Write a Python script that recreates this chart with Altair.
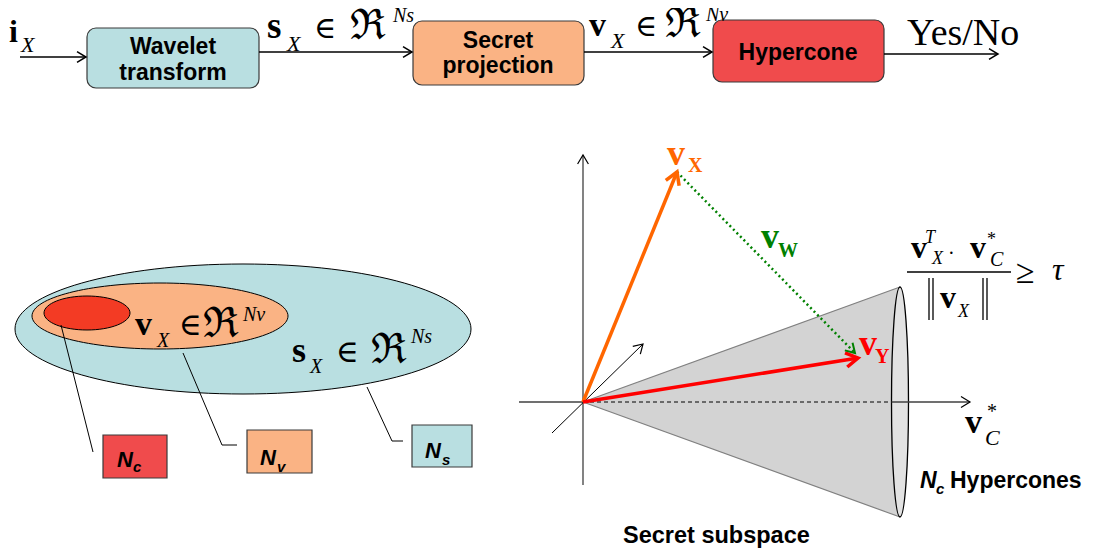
import math
import altair as alt
import pandas as pd

# ------------------------------------------------------------------ data
# flow-chart boxes (top row)
flow_labels = [["Wavelet", "transform"], ["Secret", "projection"], ["Hypercone"]]
flow_x0 = [87, 413, 713]
flow_x1 = [259, 584, 884]
flow_y0 = [28, 21, 20]
flow_y1 = [88, 85, 82]
flow_fill = ["#b9dfe1", "#fab384", "#f04b4c"]

# tag boxes (N_c, N_v, N_s)
tag_x0 = [103, 247, 412]
tag_x1 = [167, 312, 472]
tag_y0 = [435, 430, 425]
tag_y1 = [478, 473, 467]
tag_fill = ["#f04b4c", "#fab384", "#b9dfe1"]

# nested sets (ellipses): Ns, Nv, Nc
ell_cx = [243, 160, 87]
ell_cy = [329, 316, 313]
ell_rx = [228, 128, 43]
ell_ry = [65, 33, 17]
ell_fill = ["#b9dfe1", "#fab384", "#f33b24"]

# hypercone
cone_apex = (583, 402)
cone_end_x = 900
cone_top_y = 287
cone_bot_y = 517
cone_end_rx = 8.5

# flow arrows
arrow_x0 = [20, 259, 584, 884]
arrow_x1 = [86, 412, 712, 998]
arrow_y = [57, 52, 52, 54]

# leader polylines (segments)
lead_x0 = [61, 183, 222, 367, 392]
lead_y0 = [325, 353, 445, 387, 441]
lead_x1 = [93, 222, 237, 392, 403]
lead_y1 = [452, 445, 445, 441, 441]

# coordinate axes of the secret subspace
axis_top = (583, 155)
axis_bottom = (583, 485)
axis_left = (519, 402)
axis_right = (970, 402)
depth_from = (552, 433)
depth_to = (643, 344)

# vectors
vx_tip = (677, 172)
vy_tip = (858, 358)
vw_tip = (855, 353)

# texts: text, x, y(baseline), size, style, colour, align
txt = [
    ("i", 9, 42, 32, "serifb", "#000000", "left"),
    ("X", 21, 52, 22, "serifi", "#000000", "left"),
    ("s", 267, 38, 37, "serifb", "#000000", "left"),
    ("X", 287, 51, 22, "serifi", "#000000", "left"),
    ("∈", 314, 38, 30, "serif", "#000000", "left"),
    ("ℜ", 350, 39, 42, "serif", "#000000", "left"),
    ("Ns", 393, 22, 20, "serifi", "#000000", "left"),
    ("v", 589, 36, 34, "serifb", "#000000", "left"),
    ("X", 611, 48, 22, "serifi", "#000000", "left"),
    ("∈", 635, 36, 30, "serif", "#000000", "left"),
    ("ℜ", 665, 37, 42, "serif", "#000000", "left"),
    ("Nv", 706, 21, 20, "serifi", "#000000", "left"),
    ("Yes/No", 907, 45, 38, "serif", "#000000", "left"),
    ("Wavelet", 173, 54, 23, "sansb", "#000000", "center"),
    ("transform", 173, 80, 23, "sansb", "#000000", "center"),
    ("Secret", 498, 48, 23, "sansb", "#000000", "center"),
    ("projection", 498, 73, 23, "sansb", "#000000", "center"),
    ("Hypercone", 798, 60, 23, "sansb", "#000000", "center"),
    # nested sets
    ("v", 135, 335, 34, "serifb", "#000000", "left"),
    ("X", 157, 347, 20, "serifi", "#000000", "left"),
    ("∈", 179, 335, 31, "serif", "#000000", "left"),
    ("ℜ", 203, 337, 42, "serif", "#000000", "left"),
    ("Nv", 243, 321, 20, "serifi", "#000000", "left"),
    ("s", 292, 362, 36, "serifb", "#000000", "left"),
    ("X", 310, 373, 20, "serifi", "#000000", "left"),
    ("∈", 336, 362, 31, "serif", "#000000", "left"),
    ("ℜ", 371, 363, 42, "serif", "#000000", "left"),
    ("Ns", 411, 343, 20, "serifi", "#000000", "left"),
    ("N", 117, 467, 22, "sansbi", "#000000", "left"),
    ("c", 133, 472, 15, "sansbi", "#000000", "left"),
    ("N", 260, 465, 22, "sansbi", "#000000", "left"),
    ("v", 277, 472, 15, "sansbi", "#000000", "left"),
    ("N", 425, 458, 22, "sansbi", "#000000", "left"),
    ("s", 442, 465, 15, "sansbi", "#000000", "left"),
    # vectors
    ("v", 667, 165, 36, "serifb", "#ff6600", "left"),
    ("X", 688, 172, 20, "serifb", "#ff6600", "left"),
    ("v", 761, 248, 36, "serifb", "#008000", "left"),
    ("W", 778, 257, 20, "serifb", "#008000", "left"),
    ("v", 859, 355, 36, "serifb", "#ff0000", "left"),
    ("Y", 875, 363, 20, "serifb", "#ff0000", "left"),
    ("v", 965, 433, 34, "serifb", "#000000", "left"),
    ("C", 985, 445, 22, "serifi", "#000000", "left"),
    ("*", 987, 418, 20, "serif", "#000000", "left"),
    # formula
    ("v", 911, 258, 32, "serifb", "#000000", "left"),
    ("T", 925, 243, 18, "serifi", "#000000", "left"),
    ("X", 932, 264, 18, "serifi", "#000000", "left"),
    ("·", 948, 260, 20, "serif", "#000000", "left"),
    ("v", 970, 258, 32, "serifb", "#000000", "left"),
    ("*", 987, 245, 18, "serif", "#000000", "left"),
    ("C", 990, 266, 20, "serifi", "#000000", "left"),
    ("v", 940, 308, 32, "serifb", "#000000", "left"),
    ("X", 958, 317, 18, "serifi", "#000000", "left"),
    ("≥", 1016, 283, 34, "serif", "#000000", "left"),
    ("τ", 1052, 280, 32, "serifi", "#000000", "left"),
    ("N", 920, 488, 23, "sansbi", "#000000", "left"),
    ("c", 936, 494, 15, "sansbi", "#000000", "left"),
    ("Hypercones", 950, 488, 23, "sansb", "#000000", "left"),
    ("Secret subspace", 623, 543, 23.5, "sansb", "#000000", "left"),
]

# ------------------------------------------------------------------ helpers
W, H, M = 1081, 540, 8
XS = alt.Scale(domain=[M, M + W], nice=False, zero=False)
YS = alt.Scale(domain=[M + H, M], nice=False, zero=False)


def X(f):
    return alt.X(f, type="quantitative", scale=XS, axis=None)


def Y(f):
    return alt.Y(f, type="quantitative", scale=YS, axis=None)


def seg(p, q, c, w):
    return dict(x=p[0], y=p[1], x2=q[0], y2=q[1], c=c, w=w)


def rule_layer(rows, **kw):
    return alt.Chart(pd.DataFrame(rows)).mark_rule(strokeCap="butt", **kw).encode(
        x=X("x"), y=Y("y"), x2="x2:Q", y2="y2:Q",
        color=alt.Color("c:N", scale=None),
        strokeWidth=alt.StrokeWidth("w:Q", scale=None),
    )


def ellipse_rows(cx, cy, rx, ry, fill):
    rows = []
    for a, b, r1, r2, f in zip(cx, cy, rx, ry, fill):
        if r1 >= r2:
            k = r2 / r1
            path = f"M -1 0 A 1 {k:.4f} 0 1 1 1 0 A 1 {k:.4f} 0 1 1 -1 0 Z"
            size = (2 * r1) ** 2
        else:
            k = r1 / r2
            path = f"M 0 -1 A {k:.4f} 1 0 1 1 0 1 A {k:.4f} 1 0 1 1 0 -1 Z"
            size = (2 * r2) ** 2
        rows.append(dict(x=a, y=b, shape=path, size=size, fill=f))
    return rows


def ellipse_layer(rows, stroke="#000000", sw=1.0):
    return alt.Chart(pd.DataFrame(rows)).mark_point(
        filled=True, opacity=1, stroke=stroke, strokeWidth=sw
    ).encode(
        x=X("x"), y=Y("y"),
        shape=alt.Shape("shape:N", scale=None),
        size=alt.Size("size:Q", scale=None),
        fill=alt.Fill("fill:N", scale=None),
    )


CHEVRON = "M -1 -0.6 L 0 0 L -1 0.6"


def head(p_from, p_to, c, w, half_len):
    ang = math.degrees(math.atan2(p_to[1] - p_from[1], p_to[0] - p_from[0])) % 360
    return dict(x=p_to[0], y=p_to[1], ang=ang, c=c, w=w, size=(2 * half_len) ** 2, shape=CHEVRON)


# ------------------------------------------------------------------ layers
layers = []

# flow boxes
fb = pd.DataFrame(dict(x=flow_x0, x2=flow_x1, y=flow_y0, y2=flow_y1, fill=flow_fill))
layers.append(alt.Chart(fb).mark_rect(cornerRadius=9, stroke="#3a3a3a", strokeWidth=1.2).encode(
    x=X("x"), x2="x2:Q", y=Y("y"), y2="y2:Q", fill=alt.Fill("fill:N", scale=None)))

# tag boxes
tb = pd.DataFrame(dict(x=tag_x0, x2=tag_x1, y=tag_y0, y2=tag_y1, fill=tag_fill))
layers.append(alt.Chart(tb).mark_rect(stroke="#3a3a3a", strokeWidth=1.2).encode(
    x=X("x"), x2="x2:Q", y=Y("y"), y2="y2:Q", fill=alt.Fill("fill:N", scale=None)))

# nested ellipses
layers.append(ellipse_layer(ellipse_rows(ell_cx, ell_cy, ell_rx, ell_ry, ell_fill)))

# solid thin lines
solid = []
for a, b, yv in zip(arrow_x0, arrow_x1, arrow_y):
    solid.append(seg((a, yv), (b, yv), "#000000", 1.5))
for a, b, c, d in zip(lead_x0, lead_y0, lead_x1, lead_y1):
    solid.append(seg((a, b), (c, d), "#000000", 1.0))
layers.append(rule_layer(solid))

# cone body
cone = pd.DataFrame(dict(x=[cone_apex[0], cone_end_x], y=[cone_apex[1], cone_top_y],
                         y2=[cone_apex[1], cone_bot_y]))
layers.append(alt.Chart(cone).mark_area(color="#d3d3d3", opacity=1).encode(
    x=X("x"), y=Y("y"), y2="y2:Q"))
layers.append(rule_layer([
    seg(cone_apex, (cone_end_x, cone_top_y), "#808080", 1.2),
    seg(cone_apex, (cone_end_x, cone_bot_y), "#808080", 1.2),
]))
cone_mid = (cone_top_y + cone_bot_y) / 2
layers.append(ellipse_layer(ellipse_rows([cone_end_x], [cone_mid], [cone_end_rx],
                                         [(cone_bot_y - cone_top_y) / 2], ["#e2e2e2"]), sw=1.3))

# axes
layers.append(rule_layer([
    seg(axis_bottom, axis_top, "#404040", 1.3),
    seg(axis_left, cone_apex, "#404040", 1.3),
    seg((cone_end_x - cone_end_rx, axis_right[1]), axis_right, "#404040", 1.3),
    seg(depth_from, depth_to, "#000000", 1.0),
]))
layers.append(rule_layer([seg(cone_apex, (cone_end_x - cone_end_rx, axis_right[1]), "#000000", 1.0)],
                         strokeDash=[4, 3]))

# formula lines (fraction bar, norm bars)
layers.append(rule_layer([
    seg((907, 272), (1011, 272), "#000000", 1.5),
    seg((929, 278), (929, 320), "#000000", 1.3),
    seg((933, 278), (933, 320), "#000000", 1.3),
    seg((983, 278), (983, 320), "#000000", 1.3),
    seg((987, 278), (987, 320), "#000000", 1.3),
]))

# vectors
layers.append(rule_layer([seg(vx_tip, vw_tip, "#008000", 2.5)], strokeDash=[2, 3]))
layers.append(rule_layer([
    seg(cone_apex, vx_tip, "#ff6600", 3.5),
    seg(cone_apex, vy_tip, "#ff0000", 3.5),
]))

# arrow heads
heads = []
for a, b, yv in zip(arrow_x0, arrow_x1, arrow_y):
    heads.append(head((a, yv), (b, yv), "#000000", 1.5, 9))
heads.append(head(axis_bottom, axis_top, "#000000", 1.2, 9))
heads.append(head(axis_left, axis_right, "#000000", 1.2, 9))
heads.append(head(depth_from, depth_to, "#000000", 1.2, 9))
heads.append(head(cone_apex, vx_tip, "#ff6600", 3.5, 12))
heads.append(head(cone_apex, vy_tip, "#ff0000", 3.5, 12))
heads.append(head(vx_tip, vw_tip, "#008000", 2.0, 9))
layers.append(alt.Chart(pd.DataFrame(heads)).mark_point(filled=False, opacity=1).encode(
    x=X("x"), y=Y("y"),
    shape=alt.Shape("shape:N", scale=None),
    size=alt.Size("size:Q", scale=None),
    angle=alt.Angle("ang:Q", scale=None),
    color=alt.Color("c:N", scale=None),
    strokeWidth=alt.StrokeWidth("w:Q", scale=None),
))

# texts
SERIF = "Liberation Serif, DejaVu Serif, serif"
SANS = "Liberation Sans, Arial, sans-serif"
STYLES = {
    "sansb": dict(font=SANS, fontWeight="bold", fontStyle="normal"),
    "sansbi": dict(font=SANS, fontWeight="bold", fontStyle="italic"),
    "serifb": dict(font=SERIF, fontWeight="bold", fontStyle="normal"),
    "serifi": dict(font=SERIF, fontWeight="normal", fontStyle="italic"),
    "serif": dict(font=SERIF, fontWeight="normal", fontStyle="normal"),
}
tdf = pd.DataFrame(txt, columns=["t", "x", "y", "s", "style", "c", "align"])
for (style, align), sub in tdf.groupby(["style", "align"]):
    layers.append(alt.Chart(sub).mark_text(align=align, baseline="alphabetic", **STYLES[style]).encode(
        x=X("x"), y=Y("y"), text="t:N",
        size=alt.Size("s:Q", scale=None),
        color=alt.Color("c:N", scale=None),
    ))

chart = alt.layer(*layers).properties(
    width=W, height=H, padding=0, autosize=alt.AutoSizeParams(type="none")
).configure_view(stroke=None)

chart.save("out.html", embed_options={"renderer": "svg", "actions": False})
